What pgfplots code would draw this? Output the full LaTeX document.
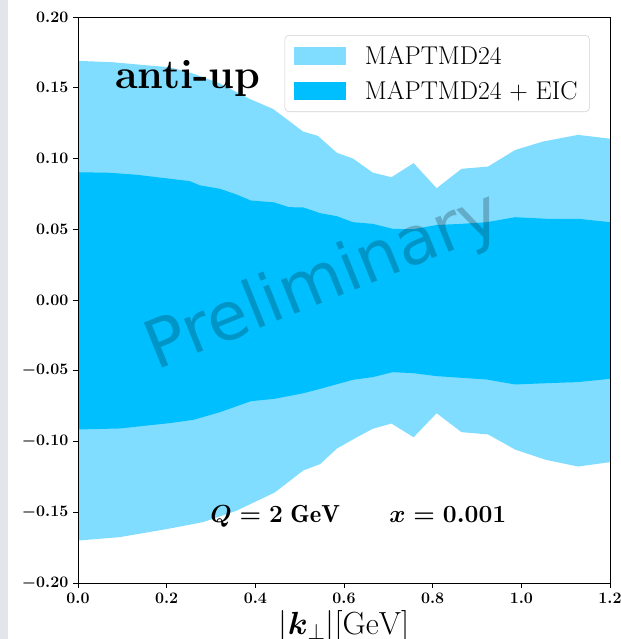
\RequirePackage{fix-cm}
\documentclass[border=0pt]{standalone}
\usepackage{amsmath}
\usepackage{fontspec}
\newfontfamily\djv{DejaVu Sans}
\usepackage{pgfplots}
\pgfplotsset{compat=1.18}
\definecolor{lightb}{RGB}{128,221,255}
\definecolor{darkb}{RGB}{0,191,255}
\definecolor{strip}{RGB}{226,230,235}
\begin{document}
\begin{tikzpicture}
\useasboundingbox (0,0) rectangle (465.75pt,479.25pt);
\fill[strip] (0,0) rectangle (6pt,479.25pt);
\begin{axis}[
  at={(58.5pt,42pt)}, anchor=south west,
  scale only axis, width=399pt, height=424.5pt,
  xmin=0, xmax=1.2, ymin=-0.2, ymax=0.2,
  xtick={0,0.2,0.4,0.6,0.8,1.0,1.2},
  ytick={-0.2,-0.15,-0.1,-0.05,0,0.05,0.1,0.15,0.2},
  scaled ticks=false,
  tick align=outside, xtick pos=bottom, ytick pos=left,
  major tick length=3.75pt,
  axis line style={line width=0.6pt},
  every tick/.style={black, line width=0.6pt},
  ticklabel style={font=\fontsize{12}{14}\selectfont\boldmath},
  xticklabel style={/pgf/number format/.cd, fixed, fixed zerofill, precision=1},
  yticklabel style={/pgf/number format/.cd, fixed, fixed zerofill, precision=2},
  xlabel={$|\boldsymbol{k}_{\perp}|[\mathrm{GeV}]$},
  xlabel style={at={(rel axis cs:0.5,0)}, anchor=north, inner sep=0pt, yshift=-20.5pt, font=\fontsize{24}{28}\selectfont},
  axis on top,
  legend style={at={(0.962,0.968)}, anchor=north east, draw=black!18, rounded corners=3pt, fill=white,
    font=\fontsize{19.3}{23}\selectfont, row sep=7pt, inner xsep=7pt, inner ysep=6pt,
    /tikz/every odd column/.append style={column sep=12pt}},
  legend cell align=left,
  legend image code/.code={\fill[#1, sharp corners] (0pt,-7pt) rectangle (39pt,7pt);},
]
\addplot[fill=lightb, draw=none] coordinates {
(0.00,0.169) (0.08,0.168) (0.15,0.166) (0.207,0.1645) (0.26,0.160) (0.32,0.153)
(0.388,0.142) (0.44,0.135) (0.508,0.119) (0.541,0.116) (0.584,0.104) (0.62,0.100)
(0.665,0.090) (0.707,0.0868) (0.757,0.0967) (0.809,0.079) (0.865,0.0927) (0.925,0.0943)
(0.986,0.106) (1.049,0.112) (1.128,0.1167) (1.2,0.114)
(1.2,-0.1146) (1.128,-0.1177) (1.056,-0.113) (0.986,-0.1057) (0.925,-0.095) (0.865,-0.0934)
(0.809,-0.080) (0.757,-0.097) (0.707,-0.0873) (0.665,-0.091) (0.629,-0.097) (0.584,-0.105)
(0.546,-0.116) (0.508,-0.1205) (0.444,-0.136) (0.357,-0.149) (0.282,-0.157) (0.207,-0.1615)
(0.094,-0.1676) (0.00,-0.170)
} -- cycle;
\addlegendentry{MAPTMD24}
\addplot[fill=darkb, draw=none] coordinates {
(0.00,0.0903) (0.072,0.0899) (0.132,0.0885) (0.207,0.0857) (0.252,0.084) (0.275,0.081)
(0.32,0.0786) (0.357,0.0746) (0.39,0.0703) (0.442,0.069) (0.476,0.0656) (0.508,0.0654)
(0.546,0.0614) (0.584,0.0592) (0.62,0.055) (0.665,0.0538) (0.71,0.0503) (0.756,0.050)
(0.809,0.053) (0.865,0.0538) (0.922,0.055) (0.986,0.0585) (1.056,0.0574) (1.128,0.0574) (1.2,0.055)
(1.2,-0.0557) (1.128,-0.058) (1.056,-0.0588) (0.986,-0.0597) (0.922,-0.0562) (0.809,-0.0538)
(0.756,-0.0517) (0.71,-0.051) (0.665,-0.0545) (0.62,-0.0564) (0.546,-0.0628) (0.508,-0.0659)
(0.444,-0.0698) (0.39,-0.0715) (0.32,-0.0793) (0.26,-0.0847) (0.207,-0.087) (0.094,-0.0908) (0.00,-0.0915)
} -- cycle;
\addlegendentry{MAPTMD24 + EIC}
\node[rotate=22, font=\djv\fontsize{50}{54}\selectfont, text=black, text opacity=0.22] at (axis cs:0.555,0.012) {Preliminary};
\node[anchor=base west, inner sep=0pt, font=\fontsize{31}{36}\selectfont\bfseries] at (axis cs:0.083,0.1495) {anti-up};
\node[anchor=base west, inner sep=0pt, font=\fontsize{18.5}{22}\selectfont\boldmath] at (axis cs:0.298,-0.157) {$Q = 2\ \mathrm{GeV}\hspace{2em}x = 0.001$};
\end{axis}
\end{tikzpicture}
\end{document}
